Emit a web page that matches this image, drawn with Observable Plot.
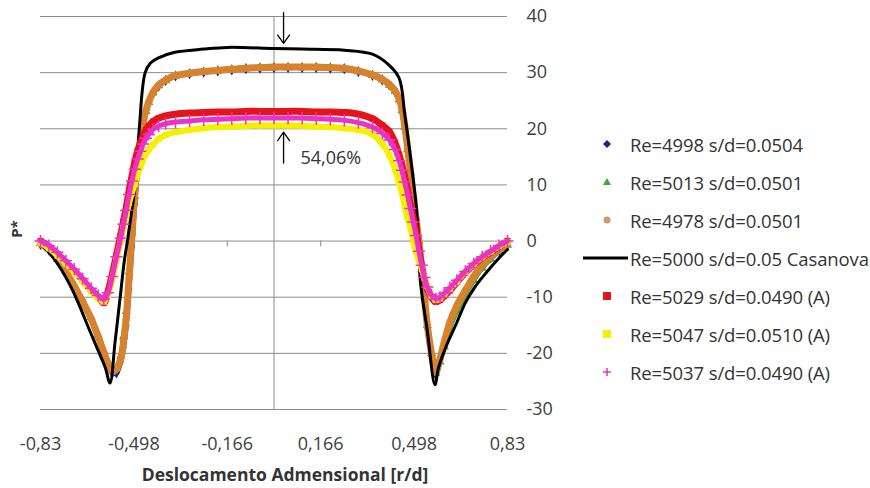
<!DOCTYPE html>
<html><head><meta charset="utf-8">
<script src="https://cdn.jsdelivr.net/npm/d3@7"></script>
<script src="https://cdn.jsdelivr.net/npm/@observablehq/plot@0.6"></script>
<style>
body{margin:0;background:#fff;font-family:"Open Sans",sans-serif;}
#wrap{position:relative;width:870px;height:488px;overflow:hidden;}
#legend{position:absolute;left:583px;top:125px;}
.row{display:flex;align-items:center;height:38px;font-size:18.5px;color:#333;white-space:nowrap;letter-spacing:-0.1px;}
.row svg{margin-right:0;flex:none}
</style></head><body>
<div id="wrap"><div id="chart"></div><div id="legend"></div></div>
<script>
// ---- data ----
const xTicks = [-0.83, -0.498, -0.166, 0.166, 0.498, 0.83];
const yTicks = [-30, -20, -10, 0, 10, 20, 30, 40];

const xGrid = [-0.83,-0.80,-0.77,-0.74,-0.71,-0.68,-0.65,-0.625,-0.605,-0.59,-0.575,-0.56,-0.545,-0.535,-0.525,-0.515,-0.505,-0.495,-0.485,-0.475,-0.465,-0.455,-0.445,-0.43,-0.41,-0.385,-0.35,-0.30,-0.25,-0.20,-0.15,-0.10,-0.05,0,
  0.05,0.10,0.15,0.20,0.25,0.30,0.35,0.385,0.41,0.43,0.445,0.455,0.465,0.475,0.485,0.495,0.505,0.515,0.525,0.535,0.545,0.56,0.575,0.59,0.605,0.625,0.65,0.68,0.71,0.74,0.77,0.80,0.83];

const yBlue = [-0.6,-1.6,-3.4,-5.6,-8.2,-11,-14,-17.2,-20,-22,-23.5,-23.5,-21.5,-19,-15,-8.5,-1,6.5,12.5,16.5,20.5,23,24.6,26.3,27.6,28.6,29.4,29.8,30.1,30.3,30.5,30.7,30.8,30.9,
  30.9,30.9,30.9,30.8,30.7,30.2,29.5,28.7,27.8,26.6,25,23,20,16,12,7.5,3.5,-0.5,-5.5,-10.5,-15.5,-20.5,-23.8,-21.5,-18.5,-15,-12,-9.2,-6.6,-4.5,-3,-1.7,-0.6];
const yGreen = [-0.4,-1.4,-3.2,-5.3,-7.8,-10.6,-13.6,-16.8,-19.6,-21.6,-23.2,-22.6,-20.5,-17,-12.5,-5.5,1.5,8,13,17,20.8,23.1,24.7,26.4,27.7,28.6,29.4,29.9,30.1,30.3,30.5,30.7,30.8,30.9,
  30.9,30.9,30.9,30.8,30.7,30.2,29.5,28.7,27.8,26.7,25.2,23.3,20.3,16.3,12.3,8,4,0,-5,-10,-15,-20,-23.5,-21.5,-18.8,-15.5,-12.5,-9.6,-7,-4.8,-3.2,-1.8,-0.7];
const yOrange = [-0.5,-1.5,-3.3,-5.5,-8,-10.8,-13.8,-17,-19.8,-21.8,-23.3,-22.8,-21,-18,-13.5,-6.5,1,8.5,13.5,17.5,21,23.3,24.8,26.5,27.8,28.7,29.5,29.9,30.2,30.4,30.6,30.8,30.9,31,
  31,31,31,30.9,30.8,30.3,29.6,28.8,27.9,26.8,25.3,23.5,20.5,16.5,12.5,8,4,0,-5,-10,-15,-20,-23.3,-21,-18,-14.5,-11.5,-8.8,-6.3,-4.3,-2.8,-1.5,-0.5];
const yRed = [0,-1,-2.3,-3.8,-5.3,-7,-8.8,-10,-11,-9,-6,-2.5,1,3.5,6,9,11.5,14,16,17.5,18.8,19.8,20.5,21.3,21.9,22.3,22.6,22.8,22.9,23,23,23.1,23.1,23.1,
  23.1,23.1,23,23,22.9,22.6,21.8,20.6,19.5,17.5,15.3,13.5,11.3,9,6.3,4,1.7,-1.5,-4.5,-6.8,-8.5,-10,-10.8,-10.5,-9.8,-8.8,-7.3,-5.6,-4.2,-3,-2,-1,0];
const yYellow = [-0.3,-1.3,-2.6,-4,-5.5,-7.2,-9,-10.2,-10.8,-9.6,-6.8,-3.3,0,2.5,4.5,6.8,8.5,10.2,11.8,13.2,14.5,15.5,16.3,17.2,18.2,18.9,19.4,19.8,20.1,20.3,20.4,20.5,20.6,20.6,
  20.6,20.5,20.4,20.3,20.1,19.8,19,17.3,15.3,12.8,10.3,8.5,6,4,2.3,0,-2,-3.5,-5,-6.5,-8,-9.8,-10.5,-10.2,-9.5,-8.5,-7.2,-5.5,-4.1,-2.9,-1.9,-0.9,-0.2];
const yMagenta = [0,-0.8,-2,-3.5,-5,-6.7,-8.4,-9.7,-10.4,-9.2,-6.3,-2.8,0.5,3,5.5,8.3,10.7,12.8,14.6,16,17.3,18.3,19,19.9,20.5,20.9,21.2,21.4,21.6,21.7,21.8,21.9,21.9,21.9,
  21.9,21.9,21.8,21.7,21.5,21.1,20.3,19.2,18,16.3,14.3,12.6,10.5,8.2,5.8,3.4,1,-1.8,-4.3,-6.5,-8.2,-9.6,-10.3,-10,-9.3,-8.3,-7,-5.4,-4,-2.8,-1.8,-0.8,0];

const blackX = [-0.83,-0.80,-0.77,-0.734,-0.70,-0.663,-0.625,-0.60,-0.583,-0.565,-0.545,-0.532,-0.521,-0.507,-0.493,-0.479,-0.458,-0.439,-0.413,-0.356,-0.25,-0.165,0,0.10,0.25,0.35,0.41,0.445,0.465,0.485,0.505,0.515,0.52,0.545,0.572,0.585,0.61,0.65,0.68,0.71,0.74,0.77,0.80,0.83];
const blackY = [-0.5,-2,-4,-7,-10.5,-15,-19.5,-22.5,-25.3,-18,-9.2,-3.5,0,5,10,20,30,31.7,32.6,33.6,34.2,34.5,34.3,34.2,34,33.3,31.3,29,22.5,15,6.5,0,-7,-16,-25.6,-22.5,-19,-14.5,-11,-8.5,-6.5,-4.7,-3,-1.5];

const seriesNames = ["Re=4998 s/d=0.0504","Re=5013 s/d=0.0501","Re=4978 s/d=0.0501","Re=5000 s/d=0.05 Casanova","Re=5029 s/d=0.0490 (A)","Re=5047 s/d=0.0510 (A)","Re=5037 s/d=0.0490 (A)"];
const seriesColors = ["#1c2290","#3aa83a","#d7822e","#000000","#e5141c","#f4f000","#e834c4"];
const seriesSymbols = ["diamond","triangle","circle","line","square","square","plus"];

const arrowX = [0.034, 0.034];
const arrowY1 = [40.7, 13.9];
const arrowY2 = [35.2, 19.4];
const noteText = ["54,06%"];
const noteX = [0.094];
const noteY = [14.8];

// ---- build ----
const expY = [yBlue, yGreen, yOrange, null, yRed, yYellow, yMagenta];
const bandWidth = [5, 5, 7, 0, 7, 6, 5];
const marks = [
  Plot.gridY(yTicks, {stroke: "#8c8c8c", strokeOpacity: 1}),
  Plot.ruleX([0], {stroke: "#8c8c8c"}),
  Plot.ruleX(xTicks, {y1: 0, y2: 0, insetBottom: -6, stroke: "#8c8c8c"})
];
seriesNames.forEach((name, s) => {
  if (s === 3) {
    const d = blackX.map((x, i) => ({x, y: blackY[i]}));
    marks.push(Plot.line(d, {x: "x", y: "y", stroke: "#000", strokeWidth: 3, curve: "catmull-rom"}));
    return;
  }
  const d = xGrid.map((x, i) => ({x, y: expY[s][i]}));
  const c = seriesColors[s];
  marks.push(Plot.line(d, {x: "x", y: "y", stroke: c, strokeWidth: bandWidth[s], curve: "catmull-rom"}));
  if (seriesSymbols[s] === "plus") {
    marks.push(Plot.dot(d, {x: "x", y: "y", symbol: "plus", stroke: c, r: 4, strokeWidth: 1.5}));
  } else {
    marks.push(Plot.dot(d, {x: "x", y: "y", symbol: seriesSymbols[s], fill: c, r: 3.4}));
  }
});
const arrows = arrowX.map((x, i) => ({x, y1: arrowY1[i], y2: arrowY2[i]}));
marks.push(Plot.arrow(arrows, {x1: "x", x2: "x", y1: "y1", y2: "y2", stroke: "#000", strokeWidth: 1.3, headLength: 12, headAngle: 70}));
marks.push(Plot.text(noteText.map((t, i) => ({t, x: noteX[i], y: noteY[i]})), {x: "x", y: "y", text: "t", textAnchor: "start", fontSize: 18, fill: "#333"}));
marks.push(Plot.axisY({anchor: "right", ticks: yTicks, tickSize: 0, tickPadding: 19, label: null, tickFormat: d => String(d), fontSize: 18}));
marks.push(Plot.axisX({ticks: xTicks, tickSize: 0, tickPadding: 28, label: null, tickFormat: d => String(d).replace(".", ","), fontSize: 18}));
marks.push(Plot.text(["Deslocamento Admensional [r/d]"], {frameAnchor: "bottom", dy: 66, dx: 11, lineAnchor: "middle", fontWeight: "bold", fontSize: 17.5, fill: "#333"}));
marks.push(Plot.text(["P*"], {frameAnchor: "left", dx: -23, dy: 16, rotate: -90, lineAnchor: "middle", textAnchor: "middle", fontWeight: "bold", fontSize: 15, fill: "#333"}));

const chart = Plot.plot({
  width: 870, height: 488,
  marginLeft: 40, marginRight: 363, marginTop: 16, marginBottom: 79,
  x: {domain: [-0.83, 0.83]},
  y: {domain: [-30, 40]},
  style: {fontFamily: "Open Sans, sans-serif", fontSize: "18px", color: "#404040", background: "white", overflow: "visible"},
  marks
});
document.getElementById("chart").appendChild(chart);

// legend
const leg = document.getElementById("legend");
seriesNames.forEach((name, s) => {
  const row = document.createElement("div");
  row.className = "row";
  const c = seriesColors[s];
  let icon;
  switch (seriesSymbols[s]) {
    case "line": icon = `<line x1="0" y1="10" x2="45" y2="10" stroke="#000" stroke-width="3"/>`; break;
    case "diamond": icon = `<path d="M24 6 L28 10 L24 14 L20 10 Z" fill="${c}"/>`; break;
    case "triangle": icon = `<path d="M24 6 L28 13 L20 13 Z" fill="${c}"/>`; break;
    case "circle": icon = `<circle cx="24" cy="10" r="3.5" fill="#cf9a6a"/>`; break;
    case "square": icon = `<rect x="20" y="6" width="8" height="8" fill="${c}"/>`; break;
    case "plus": icon = `<path d="M24 6 V14 M20 10 H28" stroke="${c}" stroke-width="1.5"/>`; break;
  }
  row.innerHTML = `<svg width="47" height="20">${icon}</svg><span>${name}</span>`;
  leg.appendChild(row);
});
</script>
</body></html>
